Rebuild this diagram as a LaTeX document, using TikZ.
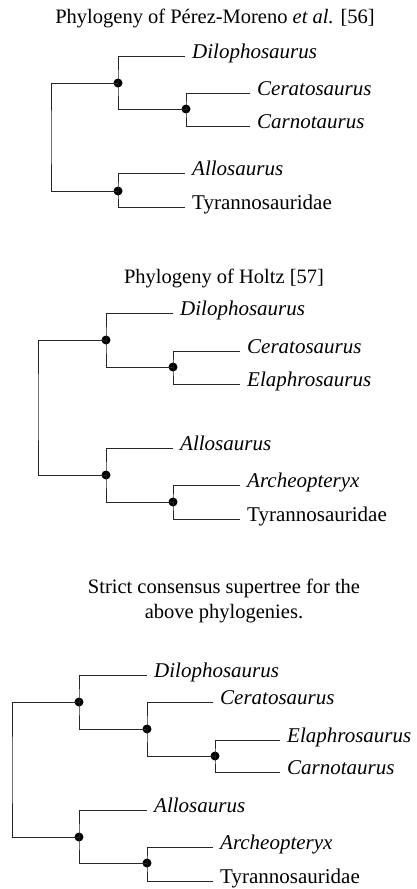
\documentclass[tikz,border=0pt]{standalone}
\usepackage{fontspec}
\setmainfont{Liberation Serif}
\newcommand\taxon[1]{\textit{#1}}
\begin{document}
\begin{tikzpicture}[x=1pt,y=-1pt,
  every node/.style={font=\fontsize{20.5}{25}\selectfont},
  leaf/.style={anchor=west,inner xsep=7pt,inner ysep=0pt,text height=0.75em,text depth=0.2em,
    font=\fontsize{21}{25}\selectfont},
  dot/.style={circle,fill=black,inner sep=0pt,minimum size=9pt},
  branch/.style={draw=black!85,line width=0.9pt},
  title/.style={anchor=base,align=center}]
\useasboundingbox (0,0) rectangle (417,889);

% ---------- Tree 1 ----------
\node[title] (title1) at (215,23) {Phylogeny of Pérez-Moreno \textit{et al.} [56]};
\node[dot] (t1A) at (118,83) {};
\node[dot] (t1B) at (186,109) {};
\node[dot] (t1C) at (118,191) {};
\coordinate (t1R) at (51,137);
\node[leaf] (t1dil) at (185,56) {\taxon{Dilophosaurus}};
\node[leaf] (t1cer) at (250,93) {\taxon{Ceratosaurus}};
\node[leaf] (t1car) at (250,126) {\taxon{Carnotaurus}};
\node[leaf] (t1all) at (185,173) {\taxon{Allosaurus}};
\node[leaf] (t1tyr) at (185,207) {Tyrannosauridae};
\draw[branch] (t1A.center) -| (t1R) |- (t1C.center);
\draw[branch] (t1dil.west) -| (t1A.center) |- (t1B.center);
\draw[branch] (t1cer.west) -| (t1B.center) |- (t1car.west);
\draw[branch] (t1all.west) -| (t1C.center) |- (t1tyr.west);

% ---------- Tree 2 ----------
\node[title] (title2) at (224,283) {Phylogeny of Holtz [57]};
\node[dot] (t2A) at (106,340) {};
\node[dot] (t2B) at (173,367) {};
\node[dot] (t2C) at (106,475) {};
\node[dot] (t2D) at (173,502) {};
\coordinate (t2R) at (38,407);
\node[leaf] (t2dil) at (173,313) {\taxon{Dilophosaurus}};
\node[leaf] (t2cer) at (240,351) {\taxon{Ceratosaurus}};
\node[leaf] (t2ela) at (240,384) {\taxon{Elaphrosaurus}};
\node[leaf] (t2all) at (173,448) {\taxon{Allosaurus}};
\node[leaf] (t2arc) at (240,485) {\taxon{Archeopteryx}};
\node[leaf] (t2tyr) at (240,519) {Tyrannosauridae};
\draw[branch] (t2A.center) -| (t2R) |- (t2C.center);
\draw[branch] (t2dil.west) -| (t2A.center) |- (t2B.center);
\draw[branch] (t2cer.west) -| (t2B.center) |- (t2ela.west);
\draw[branch] (t2all.west) -| (t2C.center) |- (t2D.center);
\draw[branch] (t2arc.west) -| (t2D.center) |- (t2tyr.west);

% ---------- Tree 3 ----------
\node[title] (title3) at (224,618) {Strict consensus supertree for the\\above phylogenies.};
\node[dot] (t3A) at (79,702) {};
\node[dot] (t3B) at (147,729) {};
\node[dot] (t3C) at (215,756) {};
\node[dot] (t3D) at (79,837) {};
\node[dot] (t3E) at (147,863) {};
\coordinate (t3R) at (12,770);
\node[leaf] (t3dil) at (147,675) {\taxon{Dilophosaurus}};
\node[leaf] (t3cer) at (213,702) {\taxon{Ceratosaurus}};
\node[leaf] (t3ela) at (280,740) {\taxon{Elaphrosaurus}};
\node[leaf] (t3car) at (280,772) {\taxon{Carnotaurus}};
\node[leaf] (t3all) at (147,810) {\taxon{Allosaurus}};
\node[leaf] (t3arc) at (213,847) {\taxon{Archeopteryx}};
\node[leaf] (t3tyr) at (213,881) {Tyrannosauridae};
\draw[branch] (t3A.center) -| (t3R) |- (t3D.center);
\draw[branch] (t3dil.west) -| (t3A.center) |- (t3B.center);
\draw[branch] (t3cer.west) -| (t3B.center) |- (t3C.center);
\draw[branch] (t3ela.west) -| (t3C.center) |- (t3car.west);
\draw[branch] (t3all.west) -| (t3D.center) |- (t3E.center);
\draw[branch] (t3arc.west) -| (t3E.center) |- (t3tyr.west);
\end{tikzpicture}
\end{document}
